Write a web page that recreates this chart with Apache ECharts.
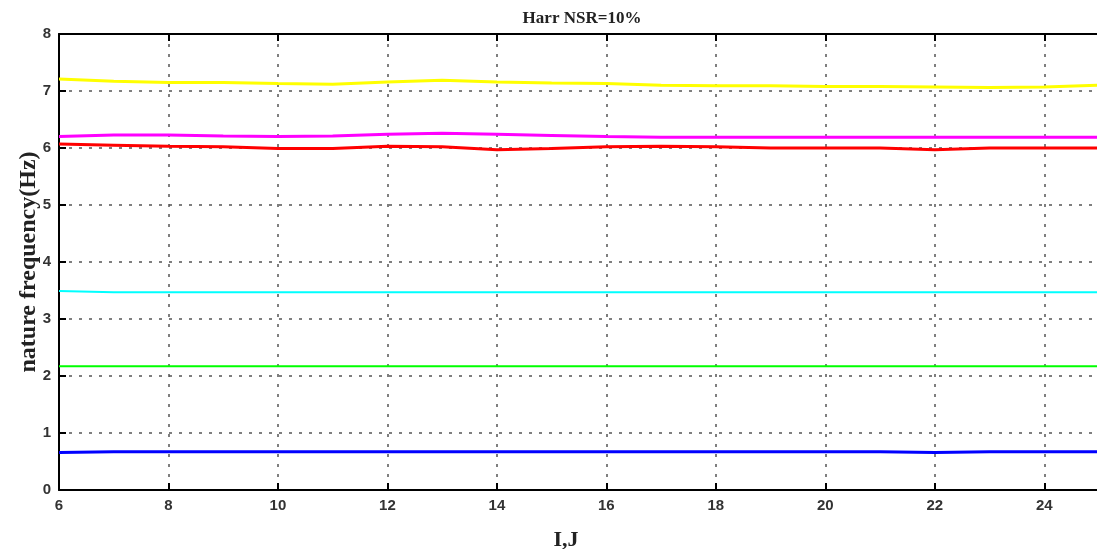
<!DOCTYPE html>
<html>
<head>
<meta charset="utf-8">
<script src="https://cdn.jsdelivr.net/npm/echarts@6/dist/echarts.min.js"></script>
<style>
html,body{margin:0;padding:0;background:#fff;}
#chart{width:1097px;height:549px;}
</style>
</head>
<body>
<div id="chart"></div>
<script>
const xs = [6,7,8,9,10,11,12,13,14,15,16,17,18,19,20,21,22,23,24,25];
const yellowF = [7.21,7.17,7.15,7.15,7.13,7.12,7.16,7.19,7.16,7.14,7.13,7.10,7.09,7.09,7.08,7.08,7.07,7.06,7.07,7.10];
const magentaF = [6.20,6.23,6.23,6.21,6.20,6.21,6.24,6.26,6.24,6.22,6.20,6.19,6.19,6.19,6.19,6.19,6.19,6.19,6.19,6.19];
const redF = [6.07,6.05,6.03,6.02,5.99,5.99,6.03,6.02,5.97,5.99,6.02,6.03,6.02,6.00,6.00,6.00,5.97,6.00,6.00,6.00];
const cyanF = [3.49,3.47,3.47,3.47,3.47,3.47,3.47,3.47,3.47,3.47,3.47,3.47,3.47,3.47,3.47,3.47,3.47,3.47,3.47,3.47];
const greenF = [2.17,2.17,2.17,2.17,2.17,2.17,2.17,2.17,2.17,2.17,2.17,2.17,2.17,2.17,2.17,2.17,2.17,2.17,2.17,2.17];
const blueF = [0.66,0.67,0.67,0.67,0.67,0.67,0.67,0.67,0.67,0.67,0.67,0.67,0.67,0.67,0.67,0.67,0.66,0.67,0.67,0.67];
const titleText = 'Harr NSR=10%';
const xName = 'I,J';
const yName = 'nature frequency(Hz)';

const pairs = arr => xs.map((x, i) => [x, arr[i]]);
const mk = (data, color, w) => ({
  type: 'line', data: pairs(data), showSymbol: false, symbol: 'none',
  lineStyle: {color: color, width: w}, itemStyle: {color: color}, animation: false, z: 5
});
const tickFont = {fontFamily: 'Liberation Sans Narrow, Liberation Sans, sans-serif', fontWeight: 'bold', fontSize: 15, color: '#333'};
const gridLine = {show: true, lineStyle: {color: '#555', type: [3, 7], width: 1.5}};

const chart = echarts.init(document.getElementById('chart'), null, {renderer: 'canvas'});
chart.setOption({
  backgroundColor: '#fff',
  animation: false,
  title: {text: titleText, left: 577, top: 5, textAlign: 'center',
    textStyle: {fontFamily: 'Liberation Serif, serif', fontWeight: 'bold', fontSize: 17, color: '#222'}},
  grid: {left: 59, top: 34, width: 1040, height: 456, show: false, containLabel: false, outerBoundsMode: 'none'},
  xAxis: [{
    type: 'value', min: 6, max: 25, interval: 2, position: 'bottom',
    name: xName, nameLocation: 'middle', nameGap: 39,
    nameTextStyle: {fontFamily: 'Liberation Serif, serif', fontWeight: 'bold', fontSize: 22, color: '#222', padding: [0, 26, 0, 0]},
    axisLine: {show: true, onZero: false, lineStyle: {color: '#000', width: 2}},
    axisTick: {show: true, inside: true, length: 7, lineStyle: {color: '#000', width: 2}},
    axisLabel: Object.assign({margin: 8, showMaxLabel: false}, tickFont),
    splitLine: gridLine
  }, {
    type: 'value', min: 6, max: 25, interval: 2, position: 'top',
    axisLine: {show: true, onZero: false, lineStyle: {color: '#000', width: 2}},
    axisTick: {show: true, inside: true, length: 7, lineStyle: {color: '#000', width: 2}},
    axisLabel: {show: false}, splitLine: {show: false}
  }],
  yAxis: [{
    type: 'value', min: 0, max: 8, interval: 1, position: 'left',
    name: yName, nameLocation: 'middle', nameGap: 18, nameMoveOverlap: false,
    nameTextStyle: {fontFamily: 'Liberation Serif, serif', fontWeight: 'bold', fontSize: 24, color: '#222'},
    axisLine: {show: true, onZero: false, lineStyle: {color: '#000', width: 2}},
    axisTick: {show: true, inside: true, length: 7, lineStyle: {color: '#000', width: 2}},
    axisLabel: Object.assign({margin: 8}, tickFont),
    splitLine: gridLine
  }],
  series: [
    mk(yellowF, '#ffff00', 3),
    mk(magentaF, '#ff00ff', 3),
    mk(redF, '#ff0000', 3),
    mk(cyanF, '#00ffff', 2),
    mk(greenF, '#00ff00', 2),
    mk(blueF, '#0000ff', 3)
  ]
});
</script>
</body>
</html>
